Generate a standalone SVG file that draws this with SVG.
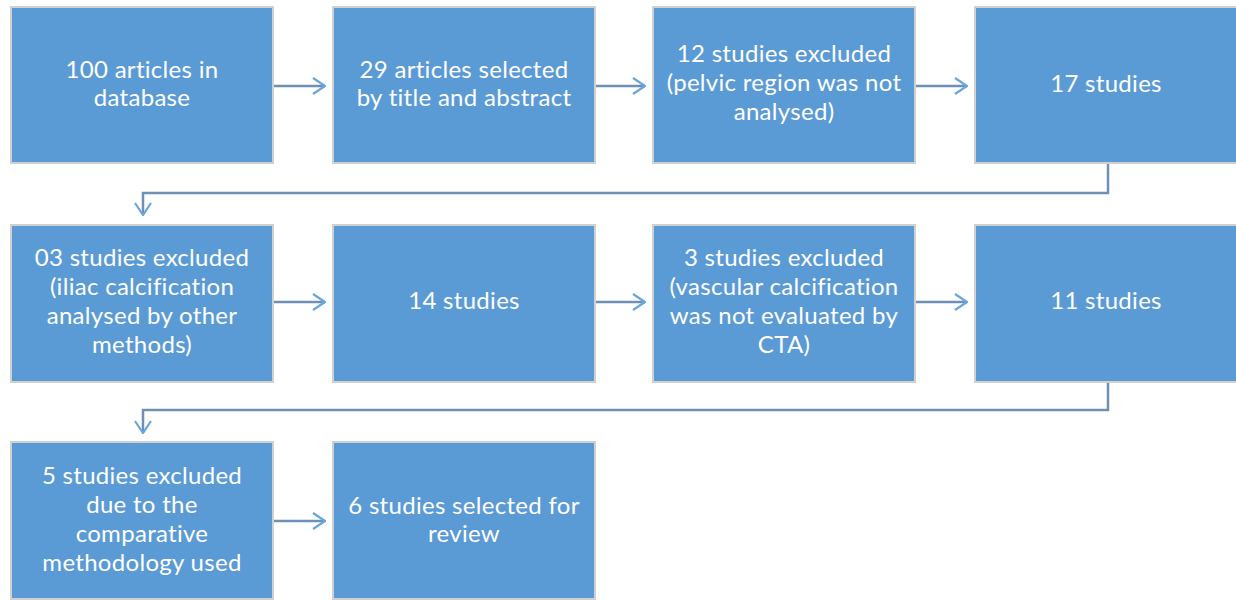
<svg xmlns="http://www.w3.org/2000/svg" width="1236" height="600" viewBox="0 0 1236 600">
<style>
.box{fill:#5B9BD5;stroke:#D0D0D0;stroke-width:2}
.t{fill:#FFFFFF;font-family:Lato,"Open Sans","Liberation Sans",sans-serif;font-size:24px;letter-spacing:0.3px;text-anchor:middle}
.c{fill:none;stroke:#6F8FB5;stroke-width:2.5}
</style>
<defs>
<marker id="a" viewBox="0 0 14 18" refX="13" refY="9" markerWidth="14" markerHeight="18" markerUnits="userSpaceOnUse" orient="auto">
<path d="M1,1 L13,9 L1,17" fill="none" stroke="#6AA6DC" stroke-width="2.2"/>
</marker>
</defs>
<rect width="1236" height="600" fill="#FFFFFF"/>
<g id="connectors">
<line class="c" x1="273" y1="86" x2="325" y2="86" marker-end="url(#a)"/>
<line class="c" x1="595" y1="86" x2="645" y2="86" marker-end="url(#a)"/>
<line class="c" x1="915" y1="86" x2="967" y2="86" marker-end="url(#a)"/>
<polyline class="c" points="1108,163 1108,193 143,193 143,215" marker-end="url(#a)"/>
<line class="c" x1="273" y1="302" x2="325" y2="302" marker-end="url(#a)"/>
<line class="c" x1="595" y1="302" x2="645" y2="302" marker-end="url(#a)"/>
<line class="c" x1="915" y1="302" x2="967" y2="302" marker-end="url(#a)"/>
<polyline class="c" points="1108,382 1108,410 143,410 143,433" marker-end="url(#a)"/>
<line class="c" x1="273" y1="521" x2="325" y2="521" marker-end="url(#a)"/>
</g>
<g id="n1"><rect class="box" x="11" y="7" width="262" height="156"/>
<text class="t" x="142" y="78">100 articles in</text><text class="t" x="142" y="106">database</text></g>
<g id="n2"><rect class="box" x="333" y="7" width="262" height="156"/>
<text class="t" x="464" y="78">29 articles selected</text><text class="t" x="464" y="106">by title and abstract</text></g>
<g id="n3"><rect class="box" x="653" y="7" width="262" height="156"/>
<text class="t" x="784" y="62">12 studies excluded</text><text class="t" x="784" y="91">(pelvic region was not</text><text class="t" x="784" y="120">analysed)</text></g>
<g id="n4"><rect class="box" x="975" y="7" width="262" height="156"/>
<text class="t" x="1106" y="92">17 studies</text></g>
<g id="n5"><rect class="box" x="11" y="225" width="262" height="157"/>
<text class="t" x="142" y="266">03 studies excluded</text><text class="t" x="142" y="295">(iliac calcification</text><text class="t" x="142" y="324">analysed by other</text><text class="t" x="142" y="353">methods)</text></g>
<g id="n6"><rect class="box" x="333" y="225" width="262" height="157"/>
<text class="t" x="464" y="309">14 studies</text></g>
<g id="n7"><rect class="box" x="653" y="225" width="262" height="157"/>
<text class="t" x="784" y="266">3 studies excluded</text><text class="t" x="784" y="295">(vascular calcification</text><text class="t" x="784" y="324">was not evaluated by</text><text class="t" x="784" y="353">CTA)</text></g>
<g id="n8"><rect class="box" x="975" y="225" width="262" height="157"/>
<text class="t" x="1106" y="309">11 studies</text></g>
<g id="n9"><rect class="box" x="11" y="442" width="262" height="157"/>
<text class="t" x="142" y="484">5 studies excluded</text><text class="t" x="142" y="513">due to the</text><text class="t" x="142" y="542">comparative</text><text class="t" x="142" y="571">methodology used</text></g>
<g id="n10"><rect class="box" x="333" y="442" width="262" height="157"/>
<text class="t" x="464" y="514">6 studies selected for</text><text class="t" x="464" y="542">review</text></g>
</svg>
